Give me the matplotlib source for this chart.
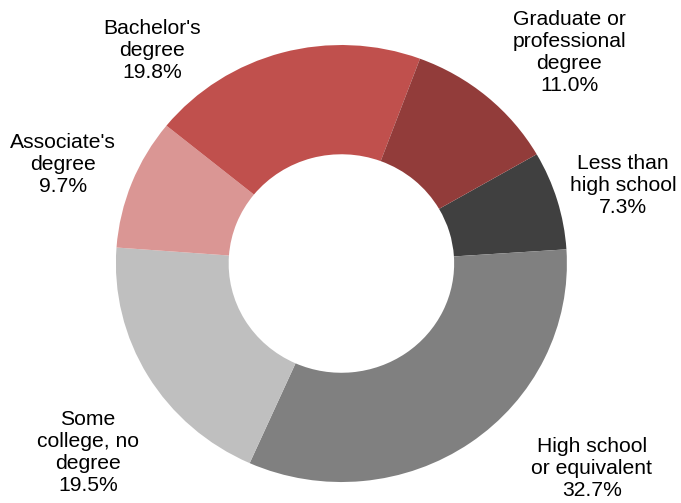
import matplotlib
matplotlib.use("Agg")
import matplotlib.pyplot as plt

plt.rcParams['font.family'] = ['Liberation Sans', 'DejaVu Sans']

# data
categories = ["Less than\nhigh school", "High school\nor equivalent", "Some\ncollege, no\ndegree",
              "Associate's\ndegree", "Bachelor's\ndegree", "Graduate or\nprofessional\ndegree"]
shares = [7.3, 32.7, 19.5, 9.7, 19.8, 11.0]
colors = ["#404040", "#808080", "#BFBFBF", "#DA9694", "#C0504D", "#923C3A"]

# label centres (data units, ring radius = 1)
label_pos = [(1.248, 0.359), (1.111, -0.936), (-1.124, -0.863),
             (-1.235, 0.451), (-0.840, 0.977), (1.011, 0.968)]

fig = plt.figure(figsize=(6.81, 5.03), dpi=100)
ax = fig.add_axes([0, 0, 1, 1])
ax.pie(shares, colors=colors, startangle=30, counterclock=False,
       wedgeprops=dict(width=0.5, linewidth=0))
for cat, val, (x, y) in zip(categories, shares, label_pos):
    ax.text(x, y, "%s\n%.1f%%" % (cat, val), ha='center', va='center',
            fontsize=15.2, linespacing=1.2, color='black')

# the original ring is slightly wider than tall
ax.set_aspect('auto')
ax.set_xlim(-1.514, 1.506)
ax.set_ylim(-1.096, 1.206)
ax.axis('off')
fig.savefig('out.png', dpi=100)
